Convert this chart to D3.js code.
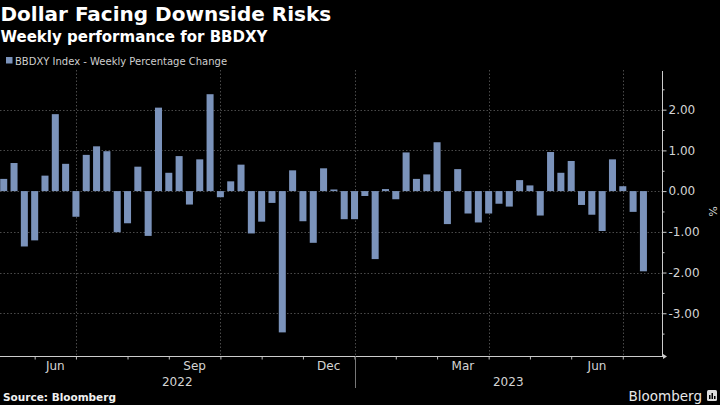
<!DOCTYPE html>
<html><head><meta charset="utf-8">
<script src="https://cdn.jsdelivr.net/npm/d3@7"></script>
<style>
body{margin:0;background:#000;}
svg{display:block;font-family:"DejaVu Sans",sans-serif;}
</style>
</head><body>
<svg id="c" width="720" height="405"></svg>
<script>
// ---- data ----
const titleText = "Dollar Facing Downside Risks";
const subtitleText = "Weekly performance for BBDXY";
const legendLabel = "BBDXY Index - Weekly Percentage Change";
const sourceText = "Source: Bloomberg";
const firstWeek = "2022-05-13";
const weeklyChange = [
  0.30, 0.69, -1.36, -1.21, 0.38, 1.89, 0.67, -0.63, 0.89, 1.10,
  0.98, -1.01, -0.79, 0.60, -1.10, 2.05, 0.45, 0.86, -0.33, 0.78,
  2.38, -0.15, 0.24, 0.65, -1.04, -0.75, -0.29, -3.47, 0.51, -0.74,
  -1.27, 0.56, 0.04, -0.69, -0.69, -0.12, -1.67, 0.05, -0.20, 0.95,
  0.30, 0.41, 1.20, -0.81, 0.54, -0.55, -0.77, -0.55, -0.31, -0.38,
  0.27, 0.14, -0.60, 0.96, 0.45, 0.74, -0.34, -0.58, -0.98, 0.78,
  0.12, -0.51, -1.97
];
const yTicks = [2, 1, 0, -1, -2, -3];
const yMinorTicks = [2.5, 1.5, 0.5, -0.5, -1.5, -2.5, -3.5];
const monthLabelNames = ["Jun", "Sep", "Dec", "Mar", "Jun"];
const yearLabels = ["2022", "2023"];

// ---- layout ----
const barColor = "#7b93bb";
const plot = {left: 0, right: 662, top: 71, bottom: 356};
const svg = d3.select("#c");

const start = d3.timeParse("%Y-%m-%d")(firstWeek);
const weeks = weeklyChange.map((v, i) => ({i, date: d3.timeDay.offset(start, 7 * i), v}));

const x = d3.scaleLinear().domain([-0.36, weeklyChange.length + 0.8]).range([plot.left, plot.right]);
const y = d3.scaleLinear().domain([-4.05, 2.95]).range([plot.bottom, plot.top]);
const step = x(1) - x(0);
const barW = step * 0.68;

// month starts (first week of each month)
const monthStarts = weeks.filter((d, k) => k > 0 && d.date.getMonth() !== weeks[k - 1].date.getMonth());
const quarterStarts = monthStarts.filter(d => d.date.getMonth() % 3 === 0);
const yearStart = monthStarts.filter(d => d.date.getMonth() === 0);

// ---- gridlines ----
const grid = svg.append("g").attr("stroke", "#4a4a4a").attr("stroke-width", 1).attr("stroke-dasharray", "1.5,2");
grid.selectAll("line.h").data(yTicks).join("line").attr("class", "h")
  .attr("x1", plot.left).attr("x2", plot.right)
  .attr("y1", d => Math.round(y(d)) + 0.5).attr("y2", d => Math.round(y(d)) + 0.5);
grid.selectAll("line.v").data(quarterStarts).join("line").attr("class", "v")
  .attr("x1", d => Math.round(x(d.i)) + 0.5).attr("x2", d => Math.round(x(d.i)) + 0.5)
  .attr("y1", plot.top - 1).attr("y2", plot.bottom);

// ---- bars ----
svg.append("g").selectAll("rect").data(weeks).join("rect")
  .attr("x", d => x(d.i) - barW / 2)
  .attr("width", barW)
  .attr("y", d => y(Math.max(0, d.v)))
  .attr("height", d => Math.abs(y(d.v) - y(0)))
  .attr("fill", barColor);

// ---- y axis (right) ----
const fmt = d3.formatLocale({decimal: ".", thousands: ",", grouping: [3], currency: ["", ""], minus: "-"}).format(".2f");
const yAxis = svg.append("g").attr("transform", `translate(${plot.right + 0.5},0)`)
  .call(d3.axisRight(y).tickValues(yTicks).tickSize(4).tickPadding(2).tickFormat(fmt));
yAxis.select(".domain").remove();
yAxis.selectAll("line").attr("stroke", "#ccc");
yAxis.selectAll("text").attr("fill", "#d4d4d4").style("font-size", "12px").style("font-family", "DejaVu Sans");
const yMinor = svg.append("g").attr("transform", `translate(${plot.right + 0.5},0)`)
  .call(d3.axisRight(y).tickValues(yMinorTicks.filter(v => y(v) >= plot.top && y(v) <= plot.bottom)).tickSize(2).tickFormat(""));
yMinor.select(".domain").remove();
yMinor.selectAll("line").attr("stroke", "#ccc");
svg.append("line").attr("x1", plot.right + 0.5).attr("x2", plot.right + 0.5)
  .attr("y1", plot.top).attr("y2", plot.bottom + 1).attr("stroke", "#ccc");
svg.append("text").attr("transform", `translate(709,${y(-0.5)}) rotate(90)`)
  .attr("text-anchor", "middle").attr("fill", "#d4d4d4").style("font-size", "11px").text("%");

// ---- x axis ----
const xAxis = svg.append("g").attr("transform", `translate(0,${plot.bottom + 0.5})`)
  .call(d3.axisBottom(x).tickValues(monthStarts.map(d => d.i)).tickSize(3).tickFormat(""));
xAxis.select(".domain").remove();
xAxis.selectAll("line").attr("stroke", "#bbb");
svg.append("line").attr("x1", plot.left).attr("x2", plot.right + 1)
  .attr("y1", plot.bottom + 0.5).attr("y2", plot.bottom + 0.5).attr("stroke", "#ccc");
svg.append("path").attr("d", `M${plot.right + 1},${plot.bottom - 2}L${plot.right + 5},${plot.bottom + 0.5}L${plot.right + 1},${plot.bottom + 3}Z`).attr("fill", "#ccc");

// month labels centred in month span
const labelMonths = monthStarts.filter(d => (d.date.getMonth() + 1) % 3 === 0);
const monthPos = labelMonths.map(d => {
  const k = monthStarts.indexOf(d);
  const next = monthStarts[k + 1];
  return (x(d.i) + x(next ? next.i : weeklyChange.length)) / 2;
});
svg.append("g").selectAll("text").data(monthLabelNames).join("text")
  .attr("x", (d, k) => monthPos[k]).attr("y", 370)
  .attr("text-anchor", "middle").attr("fill", "#d4d4d4").style("font-size", "12px").text(d => d);

// year labels + separator
const yb = x(yearStart[0].i);
const yearPos = [(plot.left + yb) / 2, (yb + plot.right) / 2];
svg.append("g").selectAll("text").data(yearLabels).join("text")
  .attr("x", (d, k) => yearPos[k]).attr("y", 386)
  .attr("text-anchor", "middle").attr("fill", "#d4d4d4").style("font-size", "12px").text(d => d);
svg.append("line").attr("x1", Math.round(yb) + 0.5).attr("x2", Math.round(yb) + 0.5)
  .attr("y1", plot.bottom).attr("y2", 388).attr("stroke", "#777");

// ---- titles ----
svg.append("text").attr("x", 0.5).attr("y", 21).attr("fill", "#fff")
  .style("font-size", "20px").style("font-weight", "bold").text(titleText);
svg.append("text").attr("x", 0.5).attr("y", 41.5).attr("fill", "#fff")
  .style("font-size", "15px").style("font-weight", "bold").text(subtitleText);

// legend
svg.append("rect").attr("x", 6).attr("y", 57).attr("width", 6.5).attr("height", 6.5).attr("fill", barColor);
svg.append("text").attr("x", 15).attr("y", 64.5).attr("fill", "#cfcfcf")
  .style("font-size", "10px").text(legendLabel);

// footer
svg.append("text").attr("x", 3).attr("y", 401).attr("fill", "#f0f0f0")
  .style("font-size", "10.5px").style("font-weight", "bold").text(sourceText);
svg.append("text").attr("x", 702).attr("y", 400.5).attr("text-anchor", "end").attr("fill", "#e8e8e8")
  .style("font-size", "13.5px").text("Bloomberg");
const logo = svg.append("g").attr("transform", "translate(707,390)");
logo.append("rect").attr("width", 10).attr("height", 11).attr("rx", 1.5).attr("fill", "#ddd");
logo.append("rect").attr("x", 2).attr("y", 5).attr("width", 1.5).attr("height", 4).attr("fill", "#000");
logo.append("rect").attr("x", 4.5).attr("y", 3).attr("width", 1.5).attr("height", 6).attr("fill", "#000");
logo.append("rect").attr("x", 7).attr("y", 6).attr("width", 1.5).attr("height", 3).attr("fill", "#000");
</script>
</body></html>
